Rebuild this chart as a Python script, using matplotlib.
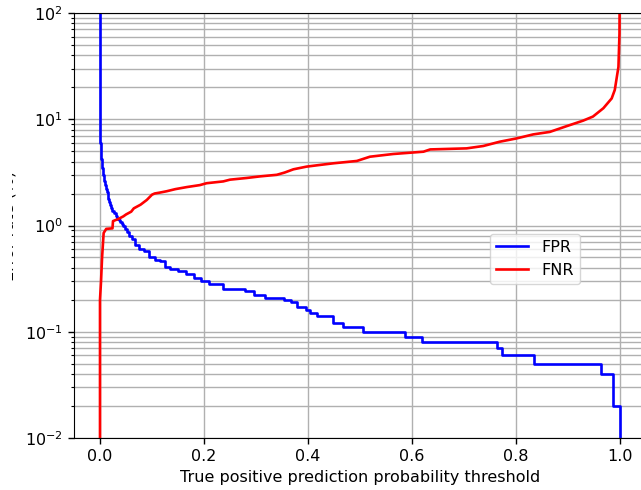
import numpy as np
import matplotlib
matplotlib.use("Agg")
import matplotlib.pyplot as plt
from matplotlib.transforms import Bbox, TransformedBbox

# FPR (%) vs threshold, drawn as a step curve
fpr_x = [0.0, 0.0005, 0.001, 0.0015, 0.002, 0.003, 0.004, 0.005, 0.006, 0.007,
         0.0085, 0.01, 0.0115, 0.013, 0.0145, 0.016, 0.018, 0.02, 0.022, 0.024,
         0.027, 0.03, 0.033, 0.036, 0.039, 0.042, 0.045, 0.048, 0.052, 0.055,
         0.062, 0.068, 0.075, 0.085,
         0.095, 0.105, 0.115, 0.125, 0.135, 0.15, 0.165, 0.18, 0.195, 0.21,
         0.236, 0.278, 0.296, 0.318, 0.353, 0.367, 0.378, 0.396, 0.403, 0.417,
         0.449, 0.467, 0.506, 0.587, 0.619, 0.763, 0.773, 0.835, 0.963, 0.986,
         1.0]
fpr_y = [500, 6.0, 5.0, 4.5, 4.2, 3.8, 3.5, 3.2, 3.0, 2.8,
         2.6, 2.4, 2.2, 2.05, 1.9, 1.78, 1.65, 1.55, 1.45, 1.38,
         1.3, 1.22, 1.16, 1.12, 1.08, 1.04, 0.98, 0.92, 0.86, 0.8,
         0.75, 0.65, 0.6, 0.57,
         0.51, 0.47, 0.46, 0.41, 0.39, 0.37, 0.35, 0.32, 0.3, 0.28,
         0.25, 0.24, 0.22, 0.21, 0.2, 0.19, 0.17, 0.16, 0.15, 0.14,
         0.12, 0.11, 0.1, 0.09, 0.08, 0.07, 0.06, 0.05, 0.04, 0.02,
         0.001]

# FNR (%) vs threshold
fnr_x = [0.0, 0.0, 0.002, 0.004, 0.007, 0.012, 0.024, 0.025, 0.035, 0.045,
         0.05, 0.06, 0.065, 0.078, 0.09, 0.1, 0.105, 0.115, 0.128, 0.145,
         0.167, 0.192, 0.205, 0.237, 0.25, 0.282, 0.308, 0.34, 0.355, 0.372,
         0.397, 0.42, 0.449, 0.494, 0.519, 0.564, 0.622, 0.635, 0.705, 0.737,
         0.769, 0.801, 0.833, 0.865, 0.897, 0.929, 0.948, 0.968, 0.984, 0.99,
         0.995, 0.997, 0.999, 1.0]
fnr_y = [0.001, 0.2, 0.3, 0.5, 0.85, 0.93, 0.94, 1.1, 1.15, 1.22,
         1.27, 1.35, 1.45, 1.57, 1.74, 1.95, 2.0, 2.04, 2.1, 2.2,
         2.3, 2.4, 2.5, 2.6, 2.7, 2.8, 2.9, 3.0, 3.15, 3.38,
         3.58, 3.7, 3.85, 4.05, 4.44, 4.71, 4.95, 5.2, 5.32, 5.6,
         6.15, 6.6, 7.2, 7.6, 8.6, 9.7, 10.6, 12.7, 15.7, 18.9,
         27, 31, 64, 500]

plt.rcParams['font.size'] = 11.5

fig = plt.figure(figsize=(6.41, 4.90), dpi=100)
ax = fig.add_axes([74 / 641, 52 / 490, 572 / 641, 425 / 490])

ax.plot(fpr_x, fpr_y, color='blue', lw=1.9, drawstyle='steps-post', label='FPR')
ax.plot(fnr_x, fnr_y, color='red', lw=1.9, label='FNR')

ax.set_yscale('log')
ax.set_ylim(1e-2, 1e2)
ax.set_xlim(-0.05, 1.05)
ax.set_xticks([0.0, 0.2, 0.4, 0.6, 0.8, 1.0])
ax.grid(True, which='both', color='#b0b0b0', lw=1.0)
ax.tick_params(which='major', length=4.5, width=1.0)
ax.tick_params(which='minor', length=2.5, width=0.8)

ax.set_xlabel('True positive prediction probability threshold')
ax.set_ylabel('Error rate (%)')
ax.yaxis.set_label_coords((17 - 74) / 572, 0.5)
# the original image is cropped through the y label, only a sliver shows
ax.yaxis.label.set_clip_box(
    TransformedBbox(Bbox([[12 / 641, 0], [1, 1]]), fig.transFigure))

ax.legend(loc='center', bbox_to_anchor=(0.806, 0.421))

fig.savefig('out.png', dpi=100)
